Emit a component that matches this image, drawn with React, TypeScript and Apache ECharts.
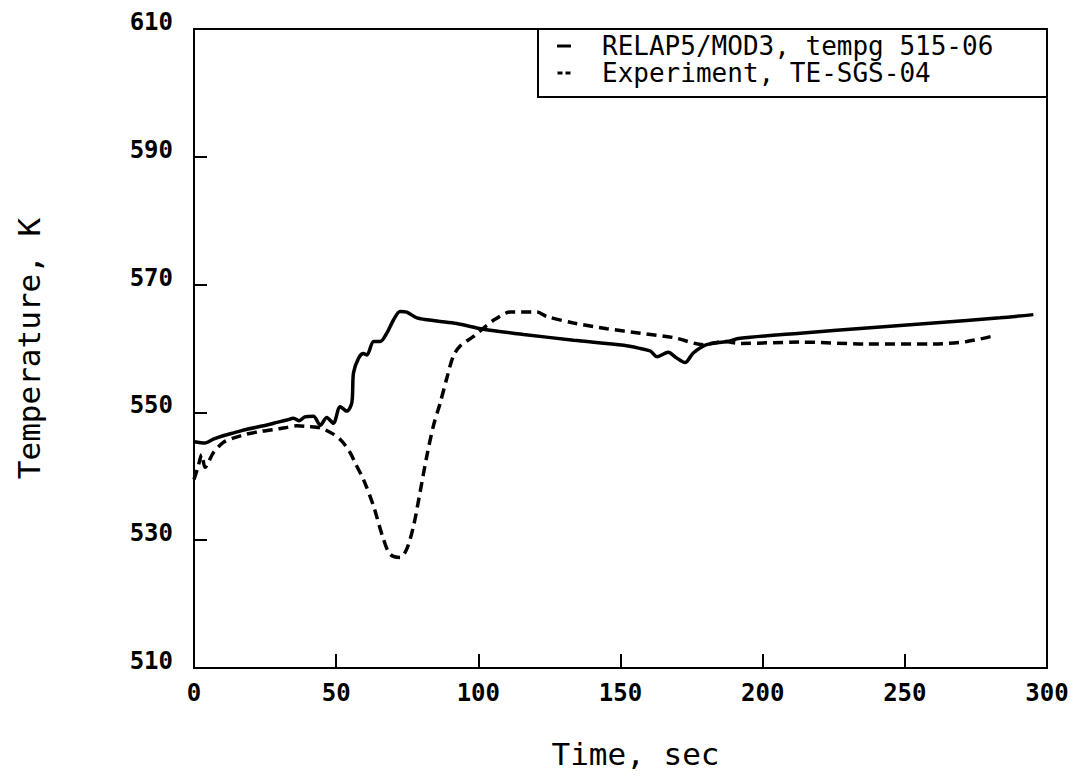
import React, { useEffect, useRef } from "react";
import * as echarts from "echarts";

const relapName = "RELAP5/MOD3, tempg 515-06";
const expName = "Experiment, TE-SGS-04";

const relapTime = [0, 3.9, 6.8, 10, 14, 19, 24.5, 28, 32.6, 35, 37, 39, 42, 44.4, 46.7, 49, 51.4, 53.7, 55.5, 56.1, 57.9, 59.6, 60.8, 63.2, 65.5, 67.8, 70.2, 72.5, 74.8, 78.4, 85.4, 92.4, 101.8, 115.9, 133.5, 151.2, 157, 160.5, 162.9, 166.8, 169.5, 172.7, 175.6, 180.3, 187.4, 192.1, 213.2, 236.6, 260.1, 283.5, 295.2];
const relapTemp = [545.4, 545.2, 545.8, 546.3, 546.8, 547.4, 547.9, 548.3, 548.8, 549.1, 548.7, 549.3, 549.4, 548, 549.2, 548.3, 550.9, 550.2, 551.5, 556.2, 558.5, 559.2, 559, 561.1, 561.1, 562.4, 564.5, 565.8, 565.7, 564.8, 564.3, 563.9, 563, 562.2, 561.3, 560.5, 560, 559.6, 558.7, 559.4, 558.6, 557.8, 559.3, 560.6, 561.1, 561.6, 562.4, 563.2, 564, 564.8, 565.3];

const expTime = [0, 1.5, 2.7, 3.9, 6.8, 10.3, 14, 18.5, 23, 27.9, 32, 36.1, 40, 44.3, 49, 52, 54.9, 57, 59.6, 63.1, 66.6, 69, 72.5, 74.8, 77.2, 79.5, 81.9, 84.2, 86.6, 89, 91.2, 93.6, 98.3, 101.8, 106, 111.2, 120.6, 124.1, 133.5, 145.2, 157, 168.8, 179.3, 186.3, 192.2, 213.2, 236.6, 260.1, 271.8, 280.6];
const expTemp = [539.5, 541.6, 543.4, 541.4, 543.7, 545.3, 546, 546.6, 547, 547.3, 547.6, 547.9, 547.8, 547.6, 546.6, 545.5, 543.7, 541.8, 539.5, 535.4, 530.2, 527.8, 527.3, 528.6, 532.2, 537.5, 543.2, 547.9, 551.5, 555.5, 558.8, 560.4, 561.9, 563.2, 564.6, 565.7, 565.7, 565, 564, 563.1, 562.4, 561.7, 560.6, 561.1, 560.8, 561, 560.7, 560.7, 561.1, 561.9];

const xTitle = "Time, sec";
const yTitle = "Temperature, K";

const FONT = "DejaVu Sans Mono";

export default function App() {
  const ref = useRef<HTMLDivElement>(null);
  useEffect(() => {
    if (!ref.current) return;
    const chart = echarts.init(ref.current, null, { renderer: "svg" });
    const zip = (a: number[], b: number[]) => a.map((v, i) => [v, b[i]]);
    chart.setOption({
      animation: false,
      backgroundColor: "#fff",
      grid: {
        left: 194,
        top: 29,
        right: 30,
        bottom: 110,
        show: true,
        borderColor: "#000",
        borderWidth: 2,
      },
      xAxis: {
        type: "value",
        min: 0,
        max: 300,
        interval: 50,
        name: xTitle,
        nameLocation: "middle",
        nameGap: 70,
        nameTextStyle: { fontFamily: FONT, fontSize: 31, color: "#000", padding: [0, 0, 0, 30] },
        axisLine: { show: true, lineStyle: { color: "#000", width: 2 } },
        axisTick: { show: true, inside: true, length: 14, lineStyle: { color: "#000", width: 2 } },
        axisLabel: { fontFamily: FONT, fontSize: 24, fontWeight: "bold", color: "#000", margin: 13 },
        splitLine: { show: false },
      },
      yAxis: {
        type: "value",
        min: 510,
        max: 610,
        interval: 20,
        name: yTitle,
        nameLocation: "middle",
        nameGap: 150,
        nameRotate: 90,
        nameTextStyle: { fontFamily: FONT, fontSize: 31, color: "#000" },
        axisLine: { show: true, lineStyle: { color: "#000", width: 2 } },
        axisTick: { show: true, inside: true, length: 13, lineStyle: { color: "#000", width: 2 } },
        axisLabel: {
          fontFamily: FONT,
          fontSize: 24,
          fontWeight: "bold",
          color: "#000",
          margin: 21,
          verticalAlign: "bottom",
          lineHeight: 14,
        },
        splitLine: { show: false },
      },
      legend: {
        show: true,
        orient: "vertical",
        left: 557,
        top: 33,
        itemWidth: 14,
        itemHeight: 3,
        itemGap: 1,
        padding: 0,
        textStyle: { fontFamily: FONT, fontSize: 26, color: "#000", lineHeight: 26, padding: [0, 0, 0, 26] },
        data: [
          { name: relapName, icon: "path://M0,0H14V3H0Z" },
          { name: expName, icon: "path://M0,0H5V3H0Z M8,0H13V3H8Z" },
        ],
      },
      graphic: [
        {
          type: "rect",
          shape: { x: 538, y: 29, width: 509, height: 68 },
          style: { fill: "none", stroke: "#000", lineWidth: 2 },
          z: 10,
        },
      ],
      series: [
        {
          name: relapName,
          type: "line",
          data: zip(relapTime, relapTemp),
          showSymbol: false,
          symbol: "none",
          smooth: 0.3,
          lineStyle: { color: "#000", width: 3.5, type: "solid" },
          itemStyle: { color: "#000" },
        },
        {
          name: expName,
          type: "line",
          data: zip(expTime, expTemp),
          showSymbol: false,
          symbol: "none",
          smooth: 0.3,
          lineStyle: { color: "#000", width: 3.5, type: [10, 6] },
          itemStyle: { color: "#000" },
        },
      ],
    });
    return () => chart.dispose();
  }, []);
  return (
    <div
      ref={ref}
      style={{ position: "fixed", left: 0, top: 0, width: 1077, height: 778, background: "#fff" }}
    />
  );
}
